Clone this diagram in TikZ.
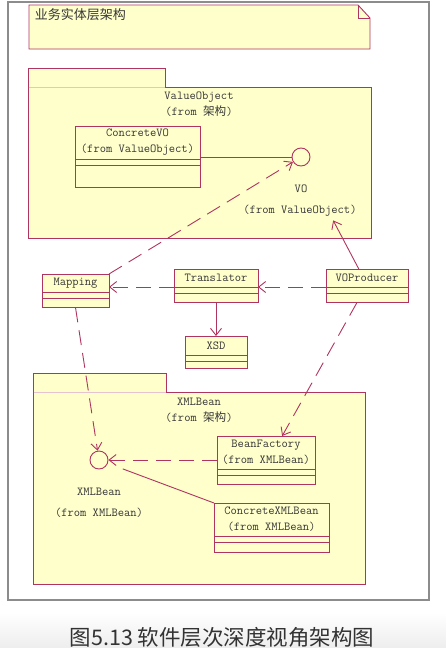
\documentclass[tikz,border=0pt]{standalone}
\usepackage{fontspec}
\newfontfamily\cjk{Noto Sans CJK SC}
\newcommand\zh[1]{{\cjk\fontsize{11.6}{16}\selectfont #1}}
\usetikzlibrary{arrows.meta,calc}
\definecolor{umlline}{RGB}{176,52,96}
\definecolor{umlfill}{RGB}{255,255,204}
\definecolor{umltext}{RGB}{55,55,55}
\tikzset{
	uml/.style={
		x=1pt, y=-1pt,
		line width=0.9pt,
		every node/.style={font=\ttfamily\fontsize{12.2}{16}\selectfont, text=umltext},
		ar/.style={-{Straight Barb[length=7pt,width=11pt]}},
		dep/.style={dash pattern=on 15pt off 8pt}
		},
	pkg/.style={draw=umlline, fill=umlfill},
	iface/.style={circle, draw=umlline, fill=umlfill, minimum size=18, inner sep=0pt},
	cls/.style n args={3}{
		draw=umlline, fill=umlfill, anchor=north west, inner sep=0pt, outer sep=0pt,
		minimum width=#1, minimum height=#2, align=center,
		prefix after command={\pgfextra{\let\fixname\tikzlastnode}},
		append after command={\pgfextra{\draw[umlline, fill=umlfill]
			(\fixname.south west) rectangle ++(#1,6.5)
			(\fixname.south west) ++(0,6.5) rectangle ++(#1,#3)
			(\fixname.south) ++(0,{6.5+#3}) coordinate (\fixname_bot);}}}
}

\begin{document}
\begin{tikzpicture}[uml]
   \useasboundingbox (0,0) rectangle (446,648);
   \shade[top color=white, bottom color=black!7] (0,612) rectangle (446,648);
   \draw[black!45, line width=1.2pt] (8,2) rectangle (429,600);

   % note
   \draw[pkg] (29,5) -- (358,5) -- (370,18) -- (370,49) -- (29,49) -- cycle;
   \draw[umlline] (358,5) |- (370,18);
   \node[anchor=west, font=\cjk\fontsize{13}{15}\selectfont] (note) at (31,15) {业务实体层架构};

   % ValueObject
   \fill[umlfill] (28,68) rectangle (165,87);
   \draw[pkg] (28,87) |- (165,68) -- (165,87);
   \draw[pkg] (28,87) rectangle (371,238);
   \draw[umlline!30] (28.5,87) -- (164.5,87);
   \node[anchor=north, align=center] (vopkg) at (199,88) {ValueObject\\(from \zh{架构})};
   \node[cls={125}{33}{22}] (concretevo) at (75,126) {ConcreteVO\\(from ValueObject)};
   \node[iface] (vo) at (301,157) {};
   \node (voname) at (301,189) {VO};
   \node (vofrom) at (300,211) {(from ValueObject)};

   \node[cls={67}{18}{9}] (mapping) at (42,274) {Mapping};
   \node[cls={84}{18}{9}] (translator) at (174,269) {Translator};
   \node[cls={82}{18}{9}] (voproducer) at (326,269) {VOProducer};
   \node[cls={62}{19}{7}] (xsd) at (185,336) {XSD};

   % XMLBean
   \fill[umlfill] (33,373) rectangle (166,392);
   \draw[pkg] (33,392) |- (166,373) -- (166,392);
   \draw[pkg] (33,392) rectangle (365,584);
   \draw[umlline!30] (33.5,392) -- (165.5,392);
   \node[anchor=north, align=center] (xmlpkg) at (199,394) {XMLBean\\(from \zh{架构})};
   \node[cls={98}{33}{9}] (beanfactory) at (217,436) {BeanFactory\\(from XMLBean)};
   \node[cls={115}{33}{10}] (concretexml) at (214,503) {ConcreteXMLBean\\(from XMLBean)};
   \node[iface] (xmlbean) at (99,460) {};
   \node (xmlbeanname) at (99,492) {XMLBean};
   \node (xmlbeanfrom) at (99,513) {(from XMLBean)};

   \draw[umlline] (vo.west -| concretevo.east) -- (vo.west);
   \draw[umlline, dep, ar] (mapping.north east) -- (vo);
   \draw[umlline, ar] ($(voproducer.north west)!0.4!(voproducer.north east)$) -- ($(vofrom.south)!0.55!(vofrom.south east)$);
   \draw[umlline, dep, ar] (translator.south west) -- (translator.south west -| mapping.east);
   \draw[umlline, dep, ar] (voproducer.south west) -- (translator.south east);
   \draw[umlline, ar] (translator_bot) -- (xsd.north);
   \draw[umlline, dep, ar] (mapping_bot) -- (xmlbean);
   \draw[umlline, dep, ar] ($(voproducer_bot)+(-10,0)$) -- ($(beanfactory.north)!0.33!(beanfactory.north east)$);
   \draw[umlline, dep, ar] (xmlbean -| beanfactory.west) -- (xmlbean);
   \draw[umlline, shorten >=16pt] (concretexml.north west) -- (xmlbean);

   \node[font=\cjk\fontsize{21.5}{24}\selectfont, text=black!80] (caption) at (222,637) {图5.13 软件层次深度视角架构图};
\end{tikzpicture}
\end{document}
